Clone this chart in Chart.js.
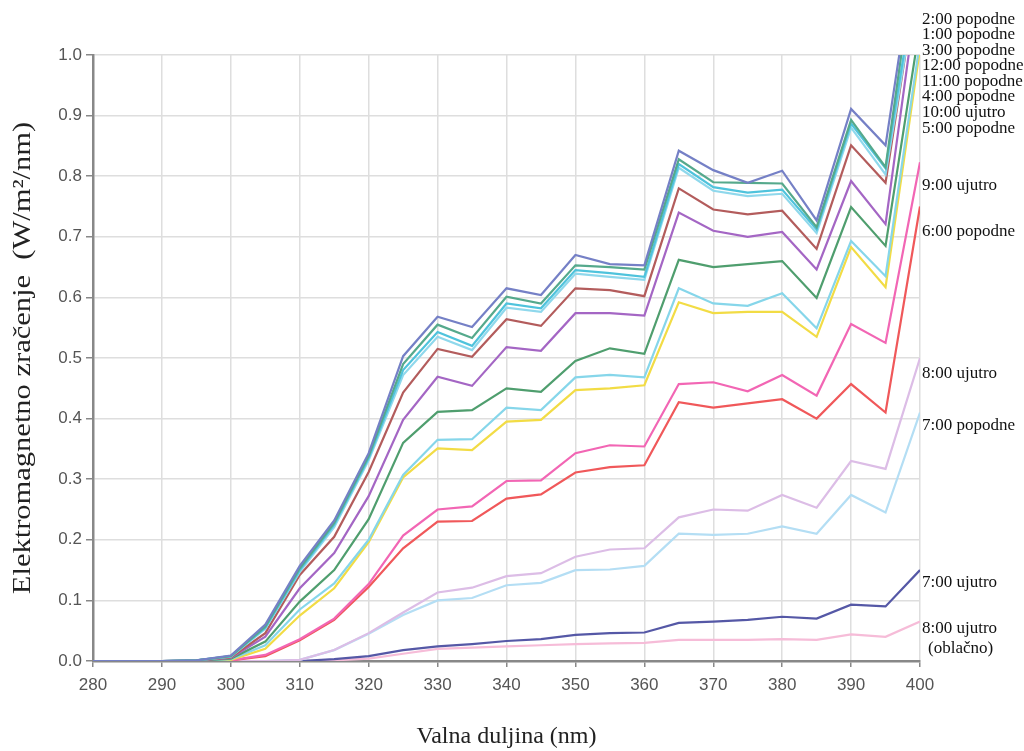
<!DOCTYPE html>
<html>
<head>
<meta charset="utf-8">
<title>Elektromagnetno zračenje</title>
<script src="https://cdn.jsdelivr.net/npm/chart.js@4.4.1/dist/chart.umd.min.js"></script>
<style>
    html, body { margin: 0; padding: 0; background: #fff; }
    #chart { display: block; }
</style>
</head>
<body>
<canvas id="chart" width="1024" height="751"></canvas>
<script>
// Wavelengths (nm), one reading every 5 nm
const wavelengths = [280, 285, 290, 295, 300, 305, 310, 315, 320, 325, 330, 335, 340,
                     345, 350, 355, 360, 365, 370, 375, 380, 385, 390, 395, 400];

// Irradiance (W/m2/nm), top line first
const pm2 = [0, 0, 0, 0.001, 0.009, 0.060, 0.157, 0.232, 0.343, 0.503, 0.568, 0.551, 0.615,
             0.604, 0.670, 0.655, 0.653, 0.842, 0.810, 0.789, 0.809, 0.727, 0.911, 0.851, 1.225];
const pm1 = [0, 0, 0, 0.001, 0.008, 0.057, 0.153, 0.228, 0.338, 0.490, 0.555, 0.533, 0.601,
             0.590, 0.653, 0.650, 0.646, 0.828, 0.790, 0.789, 0.788, 0.716, 0.893, 0.815, 1.220];
const pm3 = [0, 0, 0, 0.001, 0.008, 0.055, 0.150, 0.225, 0.335, 0.480, 0.543, 0.520, 0.590,
             0.582, 0.645, 0.640, 0.634, 0.820, 0.782, 0.773, 0.778, 0.712, 0.887, 0.813, 1.168];
const pm12 = [0, 0, 0, 0.001, 0.007, 0.053, 0.147, 0.221, 0.331, 0.472, 0.535, 0.513, 0.583,
              0.576, 0.639, 0.634, 0.629, 0.814, 0.776, 0.767, 0.771, 0.706, 0.880, 0.803, 1.150];
const am11 = [0, 0, 0, 0.001, 0.006, 0.046, 0.142, 0.205, 0.312, 0.443, 0.515, 0.502, 0.564,
              0.553, 0.615, 0.612, 0.602, 0.780, 0.745, 0.737, 0.743, 0.680, 0.851, 0.789, 1.158];
const pm4 = [0, 0, 0, 0.001, 0.005, 0.040, 0.120, 0.178, 0.272, 0.398, 0.469, 0.454, 0.518,
             0.512, 0.574, 0.574, 0.570, 0.740, 0.710, 0.700, 0.708, 0.646, 0.792, 0.721, 1.137];
const am10 = [0, 0, 0, 0, 0.004, 0.032, 0.098, 0.150, 0.234, 0.360, 0.411, 0.414, 0.450,
              0.444, 0.495, 0.516, 0.507, 0.662, 0.650, 0.655, 0.660, 0.599, 0.749, 0.685, 1.050];
const pm5 = [0, 0, 0, 0, 0.003, 0.026, 0.085, 0.128, 0.200, 0.307, 0.365, 0.366, 0.418,
             0.414, 0.468, 0.472, 0.468, 0.615, 0.590, 0.586, 0.607, 0.549, 0.693, 0.635, 1.022];
const am9y = [0, 0, 0, 0, 0.002, 0.020, 0.075, 0.120, 0.196, 0.303, 0.351, 0.348, 0.395,
              0.398, 0.447, 0.450, 0.455, 0.592, 0.574, 0.576, 0.576, 0.535, 0.683, 0.617, 1.010];
const am9 = [0, 0, 0, 0, 0.001, 0.010, 0.036, 0.070, 0.127, 0.207, 0.250, 0.255, 0.297,
             0.298, 0.343, 0.356, 0.354, 0.457, 0.460, 0.445, 0.472, 0.438, 0.556, 0.525, 0.823];
const pm6 = [0, 0, 0, 0, 0.001, 0.008, 0.034, 0.068, 0.122, 0.186, 0.230, 0.231, 0.268,
             0.275, 0.311, 0.320, 0.323, 0.427, 0.418, 0.425, 0.432, 0.400, 0.457, 0.410, 0.750];
const am8 = [0, 0, 0, 0, 0, 0, 0.002, 0.018, 0.046, 0.080, 0.113, 0.121, 0.140,
             0.145, 0.172, 0.184, 0.186, 0.237, 0.250, 0.248, 0.274, 0.253, 0.330, 0.317, 0.500];
const pm7 = [0, 0, 0, 0, 0, 0, 0.002, 0.018, 0.045, 0.076, 0.100, 0.104, 0.125,
             0.129, 0.150, 0.151, 0.157, 0.210, 0.208, 0.210, 0.222, 0.210, 0.274, 0.245, 0.410];
const am7 = [0, 0, 0, 0, 0, 0, 0, 0.003, 0.008, 0.018, 0.024, 0.028, 0.033,
             0.036, 0.043, 0.046, 0.047, 0.063, 0.065, 0.068, 0.073, 0.070, 0.093, 0.090, 0.150];
const am8cloudy = [0, 0, 0, 0, 0, 0, 0, 0.001, 0.004, 0.012, 0.020, 0.022, 0.024,
                   0.026, 0.028, 0.029, 0.030, 0.035, 0.035, 0.035, 0.036, 0.035, 0.044, 0.040, 0.065];

// Right-hand captions and the irradiance level each one sits at
const captionTexts = ['2:00 popodne', '1:00 popodne', '3:00 popodne', '12:00 popodne',
                      '11:00 popodne', '4:00 popodne', '10:00 ujutro', '5:00 popodne',
                      '9:00 ujutro', '6:00 popodne', '8:00 ujutro', '7:00 popodne',
                      '7:00 ujutro', '8:00 ujutro', '(oblačno)'];
const captionLevels = [1.059, 1.034, 1.008, 0.983, 0.957, 0.931, 0.905, 0.879,
                       0.784, 0.708, 0.475, 0.389, 0.129, 0.054, 0.021];

const yTicks = [0, 0.1, 0.2, 0.3, 0.4, 0.5, 0.6, 0.7, 0.8, 0.9, 1.0];
const yTitle = 'Elektromagnetno zračenje  (W/m²/nm)';

const series = [
    { name: '2:00 popodne', values: pm2, color: '#7580c6' },
    { name: '1:00 popodne', values: pm1, color: '#55a98c' },
    { name: '3:00 popodne', values: pm3, color: '#4fc3dc' },
    { name: '12:00 popodne', values: pm12, color: '#8fd8ec' },
    { name: '11:00 popodne', values: am11, color: '#b35c5c' },
    { name: '4:00 popodne', values: pm4, color: '#a466c4' },
    { name: '10:00 ujutro', values: am10, color: '#4f9e6e' },
    { name: '5:00 popodne', values: pm5, color: '#86d6ea' },
    { name: '9:00 ujutro (b)', values: am9y, color: '#f2dc45' },
    { name: '9:00 ujutro', values: am9, color: '#f266b4' },
    { name: '6:00 popodne', values: pm6, color: '#f0585a' },
    { name: '8:00 ujutro', values: am8, color: '#dcbde6' },
    { name: '7:00 popodne', values: pm7, color: '#b4def4' },
    { name: '7:00 ujutro', values: am7, color: '#5558a6' },
    { name: '8:00 ujutro (oblačno)', values: am8cloudy, color: '#f6bcd8' }
];

const serif = "'Liberation Serif', 'DejaVu Serif', serif";
const sans = "'Liberation Sans', Arial, sans-serif";

// Captions to the right of the plot, anchored on the y scale,
// plus the y title, which in the original is set wide.
const captionPlugin = {
    id: 'captions',
    afterDraw(chart) {
        const { ctx, chartArea, scales } = chart;
        ctx.save();
        ctx.font = '17px ' + serif;
        ctx.fillStyle = '#111';
        ctx.textAlign = 'left';
        ctx.textBaseline = 'middle';
        captionTexts.forEach((text, i) => {
            const x = chartArea.right + (text.startsWith('(') ? 8 : 2);
            ctx.fillText(text, x, scales.y.getPixelForValue(captionLevels[i]));
        });
        ctx.restore();

        ctx.save();
        ctx.font = '25px ' + serif;
        ctx.fillStyle = '#222';
        ctx.textAlign = 'center';
        ctx.textBaseline = 'middle';
        ctx.translate(23, (chartArea.top + chartArea.bottom) / 2);
        ctx.rotate(-Math.PI / 2);
        ctx.scale(1.22, 1);
        ctx.fillText(yTitle, 0, 0);
        ctx.restore();
    }
};

new Chart(document.getElementById('chart'), {
    type: 'line',
    data: {
        datasets: series.map(s => ({
            label: s.name,
            data: wavelengths.map((w, i) => ({ x: w, y: s.values[i] })),
            borderColor: s.color,
            borderWidth: 2.2,
            pointRadius: 0,
            tension: 0,
            fill: false
        }))
    },
    options: {
        responsive: false,
        animation: false,
        devicePixelRatio: 1,
        layout: { padding: { top: 55, right: 104, left: 0, bottom: 0 } },
        plugins: {
            legend: { display: false },
            tooltip: { enabled: false }
        },
        scales: {
            x: {
                type: 'linear',
                min: 280,
                max: 400,
                afterFit(scale) { scale.height = 90; },
                ticks: {
                    stepSize: 10,
                    padding: 8,
                    color: '#555',
                    font: { family: sans, size: 17 }
                },
                grid: { color: '#dedede', lineWidth: 1.5, tickLength: 6, tickColor: '#888' },
                border: { display: true, color: '#888', width: 2.5 },
                title: {
                    display: true,
                    text: 'Valna duljina (nm)',
                    color: '#222',
                    font: { family: serif, size: 24 },
                    padding: { top: 0, bottom: 0 }
                }
            },
            y: {
                min: 0,
                max: 1,
                afterFit(scale) { scale.width = 93; },
                afterBuildTicks(scale) { scale.ticks = yTicks.map(v => ({ value: v })); },
                ticks: {
                    padding: 4,
                    color: '#555',
                    font: { family: sans, size: 17 },
                    callback: v => v.toFixed(1)
                },
                grid: { color: '#dedede', lineWidth: 1.5, tickLength: 7, tickColor: '#888' },
                border: { display: true, color: '#888', width: 2.5 }
            }
        }
    },
    plugins: [captionPlugin]
});
</script>
</body>
</html>
